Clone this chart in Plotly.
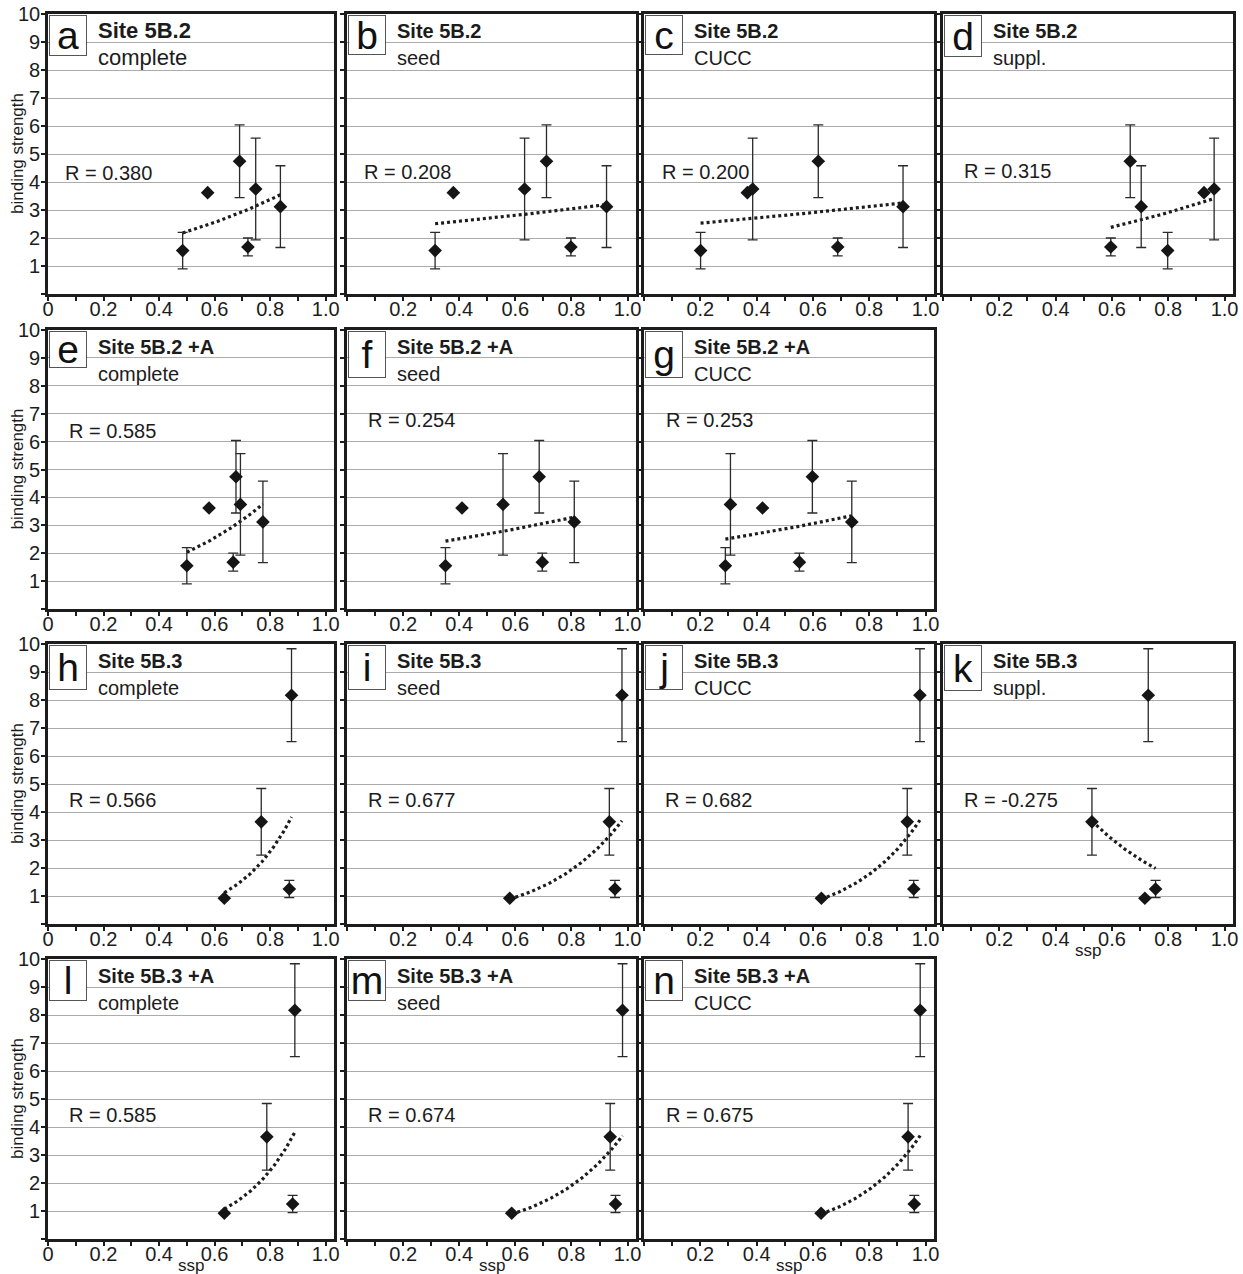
import numpy as np
import plotly.graph_objects as go

# ---------------- data ----------------
panel_ids = list("abcdefghijklmn")
site_labels = ["Site 5B.2"] * 4 + ["Site 5B.2 +A"] * 3 + ["Site 5B.3"] * 4 + ["Site 5B.3 +A"] * 3
subset_labels = ["complete", "seed", "CUCC", "suppl.",
                 "complete", "seed", "CUCC",
                 "complete", "seed", "CUCC", "suppl.",
                 "complete", "seed", "CUCC"]
r_labels = ["0.380", "0.208", "0.200", "0.315",
            "0.585", "0.254", "0.253",
            "0.566", "0.677", "0.682", "-0.275",
            "0.585", "0.674", "0.675"]

# binding strength (same compounds in every panel of a site)
binding_5b2 = [1.55, 3.62, 4.74, 1.68, 3.75, 3.12]
binding_err_5b2 = [0.65, 0.0, 1.30, 0.32, 1.82, 1.46]
binding_5b3 = [0.92, 3.65, 1.25, 8.17]
binding_err_5b3 = [0.0, 1.19, 0.31, 1.66]

# ssp per panel (same compound order as binding arrays)
ssp_a = [0.485, 0.575, 0.690, 0.720, 0.748, 0.837]
ssp_b = [0.314, 0.379, 0.711, 0.798, 0.633, 0.925]
ssp_c = [0.201, 0.367, 0.619, 0.688, 0.386, 0.920]
ssp_d = [0.798, 0.927, 0.665, 0.596, 0.963, 0.704]
ssp_e = [0.500, 0.580, 0.677, 0.667, 0.693, 0.774]
ssp_f = [0.351, 0.410, 0.685, 0.696, 0.556, 0.810]
ssp_g = [0.289, 0.421, 0.598, 0.552, 0.307, 0.738]
ssp_h = [0.635, 0.768, 0.869, 0.877]
ssp_i = [0.580, 0.935, 0.955, 0.980]
ssp_j = [0.630, 0.935, 0.958, 0.980]
ssp_k = [0.717, 0.529, 0.755, 0.729]
ssp_l = [0.635, 0.788, 0.881, 0.889]
ssp_m = [0.587, 0.938, 0.957, 0.982]
ssp_n = [0.629, 0.938, 0.960, 0.981]

x_tick_values = [0.0, 0.1, 0.2, 0.3, 0.4, 0.5, 0.6, 0.7, 0.8, 0.9, 1.0]
x_tick_labels_first = ["0", "", "0.2", "", "0.4", "", "0.6", "", "0.8", "", "1.0"]
x_tick_labels_other = ["", "", "0.2", "", "0.4", "", "0.6", "", "0.8", "", "1.0"]
y_tick_values = [0, 1, 2, 3, 4, 5, 6, 7, 8, 9, 10]
y_tick_labels_first = ["", "1", "2", "3", "4", "5", "6", "7", "8", "9", "10"]
y_tick_labels_other = [""] * 11

y_title = "binding strength"
x_title = "ssp"

# ---------------- layout / style ----------------
W, H = 1243, 1274
col_px = [(48, 334), (347, 636), (644, 934), (943, 1233)]
row_px = [(14, 294), (330, 609), (644, 924), (959, 1239)]
grid_pos = {"a": (0, 0), "b": (0, 1), "c": (0, 2), "d": (0, 3),
            "e": (1, 0), "f": (1, 1), "g": (1, 2),
            "h": (2, 0), "i": (2, 1), "j": (2, 2), "k": (2, 3),
            "l": (3, 0), "m": (3, 1), "n": (3, 2)}
ssp_by_panel = {"a": ssp_a, "b": ssp_b, "c": ssp_c, "d": ssp_d, "e": ssp_e,
                "f": ssp_f, "g": ssp_g, "h": ssp_h, "i": ssp_i, "j": ssp_j,
                "k": ssp_k, "l": ssp_l, "m": ssp_m, "n": ssp_n}
# R label placement: (offset px from left edge, vertical position on y scale)
r_pos = {"a": (15, 4.33), "b": (15, 4.37), "c": (16, 4.37), "d": (19, 4.40),
         "e": (19, 6.38), "f": (19, 6.76), "g": (20, 6.76),
         "h": (19, 4.43), "i": (19, 4.43), "j": (19, 4.43), "k": (19, 4.43),
         "l": (19, 4.43), "m": (19, 4.43), "n": (20, 4.43)}
box_h = {"a": 41, "b": 40, "c": 40, "d": 42, "e": 37, "f": 47, "g": 47,
         "h": 45, "i": 45, "j": 45, "k": 46, "l": 41, "m": 41, "n": 41}
ssp_title_panels = ["k", "l", "m", "n"]

FONT = "Liberation Sans, Arial, sans-serif"
INK = "#1c1c1c"
X_MAX = 1.03

fig = go.Figure()
annotations = []

for idx, pid in enumerate(panel_ids):
    k = idx + 1
    xa = "x" if k == 1 else f"x{k}"
    ya = "y" if k == 1 else f"y{k}"
    xkey = "xaxis" if k == 1 else f"xaxis{k}"
    ykey = "yaxis" if k == 1 else f"yaxis{k}"
    r, c = grid_pos[pid]
    x0p, x1p = col_px[c]
    y0p, y1p = row_px[r]
    wpx, hpx = x1p - x0p, y1p - y0p

    xs = np.array(ssp_by_panel[pid], dtype=float)
    if site_labels[idx].startswith("Site 5B.2"):
        ys = np.array(binding_5b2, dtype=float)
        es = np.array(binding_err_5b2, dtype=float)
    else:
        ys = np.array(binding_5b3, dtype=float)
        es = np.array(binding_err_5b3, dtype=float)

    # exponential trend line (least squares on ln y)
    b1, b0 = np.polyfit(xs, np.log(ys), 1)
    xx = np.linspace(xs.min(), xs.max(), 80)
    yy = np.exp(b0 + b1 * xx)
    fig.add_trace(go.Scatter(x=xx, y=yy, mode="lines", xaxis=xa, yaxis=ya,
                             line=dict(color=INK, width=3.2, dash="3px,3px"),
                             hoverinfo="skip", showlegend=False))
    fig.add_trace(go.Scatter(x=xs, y=ys, mode="markers", xaxis=xa, yaxis=ya,
                             marker=dict(symbol="diamond", size=10.5, color="#151515"),
                             error_y=dict(type="data", array=es, visible=True,
                                          color="#2a2a2a", thickness=1.3, width=5),
                             showlegend=False))

    first_col = (c == 0)
    fig.layout[xkey] = dict(
        domain=[x0p / W, x1p / W], anchor=ya, range=[0, X_MAX],
        tickmode="array", tickvals=x_tick_values,
        ticktext=x_tick_labels_first if first_col else x_tick_labels_other,
        ticks="outside", ticklen=4, tickwidth=1.5, tickcolor=INK,
        ticklabelstandoff=-9,
        showline=True, linewidth=2.6, linecolor=INK, mirror=True,
        showgrid=False, zeroline=False, automargin=False,
        tickfont=dict(family=FONT, size=20, color=INK),
    )
    fig.layout[ykey] = dict(
        domain=[1 - y1p / H, 1 - y0p / H], anchor=xa, range=[0, 10],
        tickmode="array", tickvals=y_tick_values,
        ticktext=y_tick_labels_first if first_col else y_tick_labels_other,
        ticks="outside", ticklen=4, tickwidth=1.5, tickcolor=INK,
        ticklabelstandoff=-3,
        showline=True, linewidth=2.6, linecolor=INK, mirror=True,
        showgrid=True, gridcolor="#ababab", gridwidth=1.2,
        zeroline=False, automargin=False,
        tickfont=dict(family=FONT, size=20, color=INK),
    )

    xd, yd = f"{xa} domain", f"{ya} domain"
    # letter in its box
    annotations.append(dict(xref=xd, yref=yd, x=0, y=1, xanchor="left", yanchor="top",
                            xshift=1, yshift=-1,
                            width=36, height=box_h[pid] - 2, borderpad=0,
                            align="center", valign="middle",
                            bgcolor="white", bordercolor="#555555", borderwidth=1,
                            text=pid, showarrow=False,
                            font=dict(family=FONT, size=39, color="#111111")))
    tsize = 22 if pid == "a" else 20
    annotations.append(dict(xref=xd, yref=yd, x=48 / wpx, y=1 - 17 / hpx,
                            text=f"<b>{site_labels[idx]}</b>", showarrow=False,
                            xanchor="left", yanchor="middle",
                            font=dict(family=FONT, size=tsize, color=INK)))
    annotations.append(dict(xref=xd, yref=yd, x=48 / wpx, y=1 - 44 / hpx,
                            text=subset_labels[idx], showarrow=False,
                            xanchor="left", yanchor="middle",
                            font=dict(family=FONT, size=tsize, color=INK)))
    rx, ry = r_pos[pid]
    annotations.append(dict(xref=xd, yref=ya, x=rx / wpx, y=ry,
                            text=f"R = {r_labels[idx]}", showarrow=False,
                            xanchor="left", yanchor="middle",
                            font=dict(family=FONT, size=20, color=INK)))
    if first_col:
        annotations.append(dict(xref="paper", yref="paper", x=17 / W,
                                y=1 - (y0p + y1p) / 2 / H, text=y_title,
                                textangle=-90, showarrow=False,
                                xanchor="center", yanchor="middle",
                                font=dict(family=FONT, size=17, color=INK)))
    if pid in ssp_title_panels:
        annotations.append(dict(xref=xd, yref=yd, x=0.5, y=-26 / hpx,
                                text=x_title, showarrow=False,
                                xanchor="center", yanchor="middle",
                                font=dict(family=FONT, size=17, color=INK)))

fig.update_layout(
    width=W, height=H,
    margin=dict(l=0, r=0, t=0, b=0),
    paper_bgcolor="white", plot_bgcolor="white",
    showlegend=False,
    annotations=annotations,
    font=dict(family=FONT, color=INK),
)

fig.write_html("out.html", config={"displayModeBar": False},
               post_script="document.body.style.margin='0';document.body.style.overflow='hidden';")
